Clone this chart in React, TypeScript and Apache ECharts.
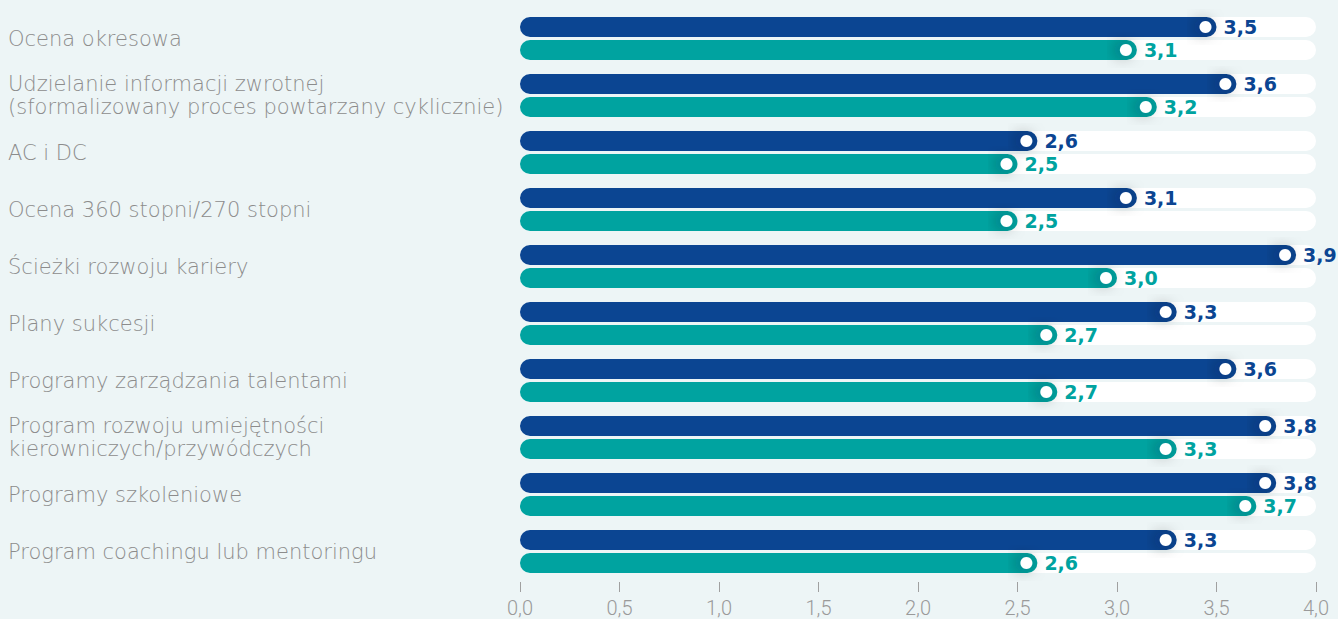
import React, { useEffect, useRef } from "react";
import * as echarts from "echarts";

const categories = [
  "Ocena okresowa",
  "Udzielanie informacji zwrotnej\n(sformalizowany proces powtarzany cyklicznie)",
  "AC i DC",
  "Ocena 360 stopni/270 stopni",
  "Ścieżki rozwoju kariery",
  "Plany sukcesji",
  "Programy zarządzania talentami",
  "Program rozwoju umiejętności\nkierowniczych/przywódczych",
  "Programy szkoleniowe",
  "Program coachingu lub mentoringu",
];

const seriesDark = [3.5, 3.6, 2.6, 3.1, 3.9, 3.3, 3.6, 3.8, 3.8, 3.3];
const seriesTeal = [3.1, 3.2, 2.5, 2.5, 3.0, 2.7, 2.7, 3.3, 3.7, 2.6];

const DARK = "#0b4592";
const TEAL = "#00a3a0";
const BG = "#edf5f6";

const fmt = (v: number) => v.toFixed(1).replace(".", ",");

export default function App() {
  const ref = useRef<HTMLDivElement>(null);

  useEffect(() => {
    if (!ref.current) return;
    const chart = echarts.init(ref.current, undefined, { renderer: "svg" });

    const barCommon = {
      type: "bar" as const,
      barWidth: 20,
      barGap: "15%",
      showBackground: true,
      backgroundStyle: { color: "#ffffff", borderRadius: 10 },
      z: 2,
    };

    const valueLabel = (color: string) => ({
      show: true,
      position: "right" as const,
      distance: 7,
      color,
      fontSize: 19,
      fontWeight: "bold" as const,
      fontFamily: "DejaVu Sans, sans-serif",
      formatter: (p: any) => fmt(p.value),
    });

    // white dot sitting inside the rounded end of each bar, with a soft shade around it
    const dotCommon = {
      type: "pictorialBar" as const,
      barWidth: 20,
      barGap: "15%",
      symbol: "circle",
      symbolSize: 12,
      symbolPosition: "end" as const,
      symbolOffset: [-5, 0],
      itemStyle: {
        color: "#ffffff",
        shadowBlur: 16,
        shadowOffsetX: -3,
        shadowColor: "rgba(0, 15, 40, 0.55)",
      },
      z: 5,
      silent: true,
    };

    chart.setOption({
      animation: false,
      backgroundColor: BG,
      grid: { left: 520, right: 22, top: 10, bottom: 39, containLabel: false },
      xAxis: {
        type: "value",
        min: 0,
        max: 4,
        interval: 0.5,
        offset: 2,
        splitLine: { show: false },
        axisLine: { show: false },
        axisTick: { show: true, length: 10, lineStyle: { color: "#a0a0a0", width: 1 } },
        axisLabel: {
          margin: 16,
          color: "#9a9a9a",
          fontSize: 20,
          fontFamily: "Roboto, sans-serif",
          fontWeight: 300,
          formatter: (v: number) => fmt(v),
        },
      },
      yAxis: {
        type: "category",
        data: categories,
        inverse: true,
        axisLine: { show: false },
        axisTick: { show: false },
        axisLabel: {
          align: "left",
          margin: 512,
          color: "#8c8c8c",
          fontSize: 21,
          lineHeight: 23,
          fontFamily: "DejaVu Sans, sans-serif",
          fontWeight: 200,
        },
      },
      series: [
        {
          ...barCommon,
          name: "A",
          data: seriesDark,
          itemStyle: { color: DARK, borderRadius: 10 },
          label: valueLabel(DARK),
        },
        {
          ...barCommon,
          name: "B",
          data: seriesTeal,
          itemStyle: { color: TEAL, borderRadius: 10 },
          label: valueLabel(TEAL),
        },
        { ...dotCommon, name: "A-dot", data: seriesDark },
        { ...dotCommon, name: "B-dot", data: seriesTeal },
      ],
    });

    return () => chart.dispose();
  }, []);

  return (
    <div
      ref={ref}
      style={{ position: "fixed", left: 0, top: 0, width: 1338, height: 619 }}
    />
  );
}
